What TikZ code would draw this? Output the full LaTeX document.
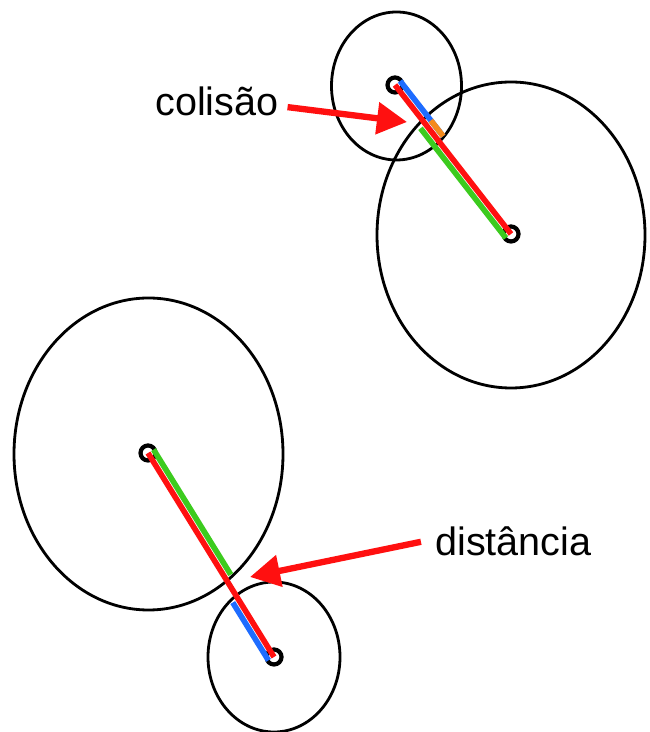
\documentclass[tikz,border=0pt]{standalone}
\usepackage{fontspec}
\setmainfont{Liberation Sans}
\usetikzlibrary{arrows.meta,calc}
\definecolor{barred}{HTML}{FF1010}
\definecolor{barblue}{HTML}{1E6CFF}
\definecolor{bargreen}{HTML}{3CCB1E}
\definecolor{barorange}{HTML}{F48A1C}

\begin{document}
\begin{tikzpicture}[
  ring/.style={draw=black,line width=1.6pt},
  dot/.style={circle,draw=black,fill=white,line width=2.4pt,minimum size=0.3cm,inner sep=0pt},
  bar/.style={line width=3.2pt},
  lbl/.style={font=\fontsize{22.5}{26}\selectfont,inner sep=0pt},
  arr/.style={-{Triangle[length=0.6cm,width=0.62cm]},line width=3.6pt,color=barred}]
\useasboundingbox (0,0) rectangle (12.98,14.64);
\draw[ring] (7.93,12.92) ellipse [x radius=1.30,y radius=1.48];
\draw[ring] (10.22,9.94) ellipse [x radius=2.68,y radius=3.06];
\draw[ring] (2.97,5.56) ellipse [x radius=2.69,y radius=3.12];
\draw[ring] (5.48,1.50) ellipse [x radius=1.32,y radius=1.50];
\node[dot] (s1) at (7.90,12.94) {};
\node[dot] (l1) at (10.22,9.96) {};
\node[dot] (l2) at (2.96,5.58) {};
\node[dot] (s2) at (5.48,1.50) {};
\draw[bar,barblue] ($(s1.center)!0.13cm!90:(l1.center)$) -- ($(s1.center)!1.4cm!(l1.center)!0.13cm!90:(l1.center)$);
\draw[bar,bargreen] ($(l1.center)!0.13cm!90:(s1.center)$) -- ($(l1.center)!2.78cm!(s1.center)!0.13cm!90:(s1.center)$);
\draw[bar,barorange] ($(s1.center)!1.0cm!(l1.center)!0.13cm!90:(l1.center)$) -- ($(s1.center)!1.4cm!(l1.center)!0.13cm!90:(l1.center)$);
\draw[bar,barred] (s1.center) -- (l1.center);
\draw[bar,bargreen] ($(l2.center)!0.13cm!90:(s2.center)$) -- ($(l2.center)!2.94cm!(s2.center)!0.13cm!90:(s2.center)$);
\draw[bar,barblue] ($(s2.center)!0.13cm!90:(l2.center)$) -- ($(s2.center)!1.36cm!(l2.center)!0.13cm!90:(l2.center)$);
\draw[bar,barred] (l2.center) -- (s2.center);
\node[lbl,anchor=base west] (colisao) at (3.10,12.32) {colisão};
\node[lbl,anchor=base west] (distancia) at (8.70,3.52) {distância};
\coordinate (hit) at (8.14,12.20);
\coordinate (gap) at (5.00,3.10);
\draw[arr] ([xshift=5pt,yshift=-3pt]colisao.east) -- (hit);
\draw[arr] ([xshift=-8pt]distancia.west) -- (gap);
\end{tikzpicture}
\end{document}
